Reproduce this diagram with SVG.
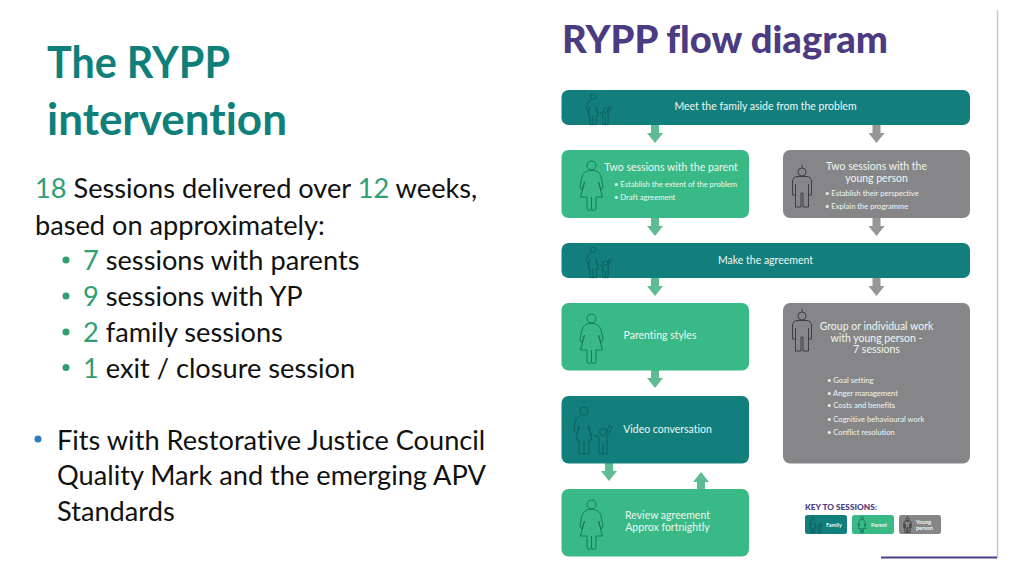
<svg xmlns="http://www.w3.org/2000/svg" xmlns:xlink="http://www.w3.org/1999/xlink" width="1024" height="576" viewBox="0 0 1024 576">
<style>
text{font-family:"Lato","Open Sans",sans-serif;font-variant-ligatures:none}
.h{font-size:44px;font-weight:700;fill:#0f8079}
.b{font-size:27.2px;fill:#111}
.g{fill:#2f9e72}
.bl{fill:#2e7dbd}
.l{font-size:10.5px;fill:#eef7f3;text-anchor:middle}
.s{font-size:7.6px;fill:#eef7f3}
.k{font-size:5.5px;font-weight:700;fill:#eef7f3}
.teal{fill:#137f7d}.green{fill:#39b985}.grey{fill:#868688}
.ag{fill:#5fbb91}.ay{fill:#969698}
</style>
<defs>
<path id="arrow" d="M-4 0H4V9H8L0 19L-8 9H-4Z"/>
<g id="woman"><circle cx="0" cy="-19.500" r="4.500"/><path d="M-3-14.500C-7-13.500-9-11-10-6L-11.500 2L-9.500 5L-7-3L-11 12H-4.500V23Q-4.500 25.500-2 25.500Q0 25.500 0 23V12V23Q0 25.500 2 25.500Q4.500 25.500 4.500 23V12H11L7-3L9.500 5L11.500 2L10-6C9-11 7-13.500 3-14.500Z"/></g>
<g id="boy"><circle cx="0" cy="-14" r="4"/><path d="M0-21V-18M-4-9.500H4Q9.500-9.500 9.500-4V9H6.500V-2M-6.500-2V9H-9.500V-4Q-9.500-9.500-4-9.500M-6.500-2V21H-1V7H1V21H6.500V-2"/></g>
<g id="family"><circle cx="-9" cy="-19" r="4"/><path d="M-12-15C-16-13-19-9-19 1L-16 3L-14-4L-17 10H-14V24H-4V10H-1L-5-4L-1 6M-9 10V24"/><circle cx="10" cy="2" r="3.500"/><path d="M6 7L1 5M6 7V24H14V7L19-3L16-5L13 5M10 14V24"/></g>
</defs>

<g id="slide-title"><text class="h" x="47" y="78" textLength="183" lengthAdjust="spacingAndGlyphs">The RYPP</text><text class="h" x="47" y="135">intervention</text></g>
<g id="slide-body">
<text class="b" x="35" y="198"><tspan class="g">18</tspan> Sessions delivered over <tspan class="g">12</tspan> weeks,</text>
<text class="b" x="35" y="235">based on approximately:</text>
<g class="g"><circle cx="66" cy="260" r="3.500"/><circle cx="66" cy="296" r="3.500"/><circle cx="66" cy="332" r="3.500"/><circle cx="66" cy="367.500" r="3.500"/></g>
<text class="b" x="83" y="270"><tspan class="g">7</tspan> sessions with parents</text>
<text class="b" x="83" y="306"><tspan class="g">9</tspan> sessions with YP</text>
<text class="b" x="83" y="342"><tspan class="g">2</tspan> family sessions</text>
<text class="b" x="83" y="378"><tspan class="g">1</tspan> exit / closure session</text>
<circle class="bl" cx="38" cy="439" r="3.500"/>
<text class="b" x="57" y="450">Fits with Restorative Justice Council</text>
<text class="b" x="57" y="485">Quality Mark and the emerging APV</text>
<text class="b" x="57" y="521">Standards</text>
</g>

<g id="frame"><path d="M997.500 10V558" stroke="#c9c9cf" stroke-width="1.500" fill="none"/><path d="M881 557.500H997" stroke="#4a3f85" stroke-width="2" fill="none"/></g>
<text id="flow-title" x="562" y="53" font-size="37" font-weight="900" fill="#4b3b82" textLength="326" lengthAdjust="spacingAndGlyphs">RYPP flow diagram</text>

<g id="connectors">
<use href="#arrow" class="ag" x="655" y="124"/><use href="#arrow" class="ay" x="876.500" y="124"/>
<use href="#arrow" class="ag" x="655" y="217"/><use href="#arrow" class="ay" x="876.500" y="217"/>
<use href="#arrow" class="ag" x="655" y="277"/><use href="#arrow" class="ay" x="876.500" y="277"/>
<use href="#arrow" class="ag" x="655" y="369"/>
<use href="#arrow" class="ag" x="609" y="462"/>
<use href="#arrow" class="ag" transform="translate(701 491) scale(1 -1)"/>
</g>

<g id="meet-family"><rect class="teal" x="561.500" y="90" width="408.500" height="35" rx="7"/><use href="#family" transform="translate(599 109) scale(.65)" fill="none" stroke="#0d5f60" stroke-width="1.500"/><text class="l" x="765.500" y="110">Meet the family aside from the problem</text></g>
<g id="parent-sessions"><rect class="green" x="561.500" y="150" width="187.500" height="68" rx="7"/><use href="#woman" x="591.500" y="185" fill="none" stroke="#147a5f"/><text class="l" x="671" y="171">Two sessions with the parent</text><text class="s" x="614" y="186.500">• Establish the extent of the problem</text><text class="s" x="614" y="199.500">• Draft agreement</text></g>
<g id="young-person-sessions"><rect class="grey" x="783" y="150" width="187" height="68" rx="7"/><use href="#boy" x="802" y="186" fill="none" stroke="#3e3e40"/><text class="l" x="876.500" y="170">Two sessions with the</text><text class="l" x="876.500" y="182">young person</text><text class="s" x="825" y="196">• Establish their perspective</text><text class="s" x="825" y="208.500">• Explain the programme</text></g>
<g id="make-agreement"><rect class="teal" x="561.500" y="243" width="408.500" height="35" rx="7"/><use href="#family" transform="translate(599 262) scale(.65)" fill="none" stroke="#0d5f60" stroke-width="1.500"/><text class="l" x="765.500" y="264">Make the agreement</text></g>
<g id="parenting-styles"><rect class="green" x="561.500" y="303" width="187.500" height="67.500" rx="7"/><use href="#woman" x="591.500" y="338" fill="none" stroke="#147a5f"/><text class="l" x="660" y="339">Parenting styles</text></g>
<g id="video-conversation"><rect class="teal" x="561.500" y="396" width="187.500" height="67.500" rx="7"/><use href="#family" x="593" y="430" fill="none" stroke="#0d5f60"/><text class="l" x="667.500" y="433">Video conversation</text></g>
<g id="review-agreement"><rect class="green" x="561.500" y="489" width="187.500" height="67.500" rx="7"/><use href="#woman" x="591.500" y="524" fill="none" stroke="#147a5f"/><text class="l" x="667.500" y="519">Review agreement</text><text class="l" x="667.500" y="530.500">Approx fortnightly</text></g>
<g id="group-work"><rect class="grey" x="783" y="303" width="187" height="160.500" rx="7"/><use href="#boy" x="802" y="330" fill="none" stroke="#3e3e40"/><text class="l" x="876.500" y="330">Group or individual work</text><text class="l" x="876.500" y="342">with young person -</text><text class="l" x="876.500" y="353">7 sessions</text>
<text class="s" x="827" y="382.500">• Goal setting</text><text class="s" x="827" y="395.500">• Anger management</text><text class="s" x="827" y="408">• Costs and benefits</text><text class="s" x="827" y="422">• Cognitive behavioural work</text><text class="s" x="827" y="434.500">• Conflict resolution</text></g>
<g id="key"><text x="805" y="509.500" font-size="8" font-weight="900" fill="#4b3b82" textLength="72" lengthAdjust="spacingAndGlyphs">KEY TO SESSIONS:</text>
<g id="key-family"><rect class="teal" x="805" y="515" width="42" height="19" rx="2.500"/><use href="#family" transform="translate(816 524.500) scale(.34)" fill="none" stroke="#0d5f60" stroke-width="2.500"/><text class="k" x="826" y="526.500">Family</text></g>
<g id="key-parent"><rect class="green" x="852" y="515" width="42" height="19" rx="2.500"/><use href="#woman" transform="translate(862 524.500) scale(.33)" fill="none" stroke="#147a5f" stroke-width="2.500"/><text class="k" x="871" y="526.500">Parent</text></g>
<g id="key-young"><rect class="grey" x="899" y="515" width="42" height="19" rx="2.500"/><use href="#boy" transform="translate(907.500 524.500) scale(.38)" fill="none" stroke="#3e3e40" stroke-width="2.500"/><text class="k" x="916" y="524">Young</text><text class="k" x="916" y="529.500">person</text></g>
</g>
</svg>
